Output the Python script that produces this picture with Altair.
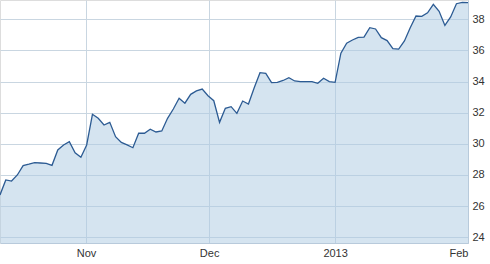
import altair as alt
import pandas as pd

# Price series, one value per trading session
prices = [
    26.72, 27.68, 27.61, 28.00, 28.60, 28.69, 28.79, 28.77, 28.75, 28.62,
    29.61, 29.93, 30.14, 29.43, 29.14, 29.93, 31.90, 31.64, 31.21, 31.38,
    30.46, 30.09, 29.93, 29.75, 30.68, 30.68, 30.94, 30.76, 30.83, 31.64,
    32.24, 32.93, 32.61, 33.18, 33.40, 33.52, 33.09, 32.77, 31.38, 32.28,
    32.39, 31.96, 32.75, 32.56, 33.60, 34.57, 34.53, 33.93, 33.95, 34.07,
    34.25, 34.04, 34.00, 34.00, 34.00, 33.89, 34.21, 34.00, 33.95, 35.82,
    36.46, 36.67, 36.84, 36.86, 37.46, 37.38, 36.82, 36.63, 36.11, 36.09,
    36.61, 37.46, 38.21, 38.19, 38.42, 38.96, 38.51, 37.61, 38.15, 39.00,
    39.09, 39.07,
]
session = list(range(len(prices)))

# x-axis month labels and their positions (in sessions)
tick_labels = ["Nov", "Dec", "2013", "Feb"]
tick_pos = [14.9, 36.2, 58.0, 81]

# y-axis tick values
y_ticks = [24, 26, 28, 30, 32, 34, 36, 38]

df = pd.DataFrame({"session": session, "price": prices})

label_expr = ""
for p, l in zip(tick_pos, tick_labels):
    label_expr += f"abs(datum.value - {p}) < 0.5 ? '{l}' : "
label_expr += "''"

FONT = "Liberation Sans"
GRID = "#c9d6e1"

x = alt.X(
    "session:Q",
    scale=alt.Scale(domain=[0, len(prices) - 1], nice=False, zero=False),
    axis=alt.Axis(
        values=tick_pos,
        labelExpr=label_expr,
        title=None,
        grid=True,
        gridColor=GRID,
        gridWidth=1,
        domainColor="#b8cadb",
        ticks=False,
        labelPadding=4,
        labelFlush=True,
        labelFont=FONT,
        labelFontSize=11,
        labelColor="#333333",
    ),
)
y = alt.Y(
    "price:Q",
    scale=alt.Scale(domain=[23.63, 39.24], nice=False, zero=False),
    axis=alt.Axis(
        orient="right",
        values=y_ticks,
        title=None,
        grid=True,
        gridColor=GRID,
        gridWidth=1,
        domainColor="#b8cadb",
        ticks=False,
        labelPadding=4,
        labelFont=FONT,
        labelFontSize=11,
        labelColor="#333333",
    ),
)

base = alt.Chart(df)
area = base.mark_area(color="#aecbe3", opacity=0.52, clip=True).encode(x=x, y=y)
line = base.mark_line(color="#2c5b93", strokeWidth=1.3, clip=True).encode(x=x, y=y)

chart = (
    alt.layer(area, line)
    .properties(width=468, height=243, padding=0)
    .configure_view(stroke=None)
    .configure(background="white")
)

chart.save("out.html", embed_options={"renderer": "svg", "actions": False})
